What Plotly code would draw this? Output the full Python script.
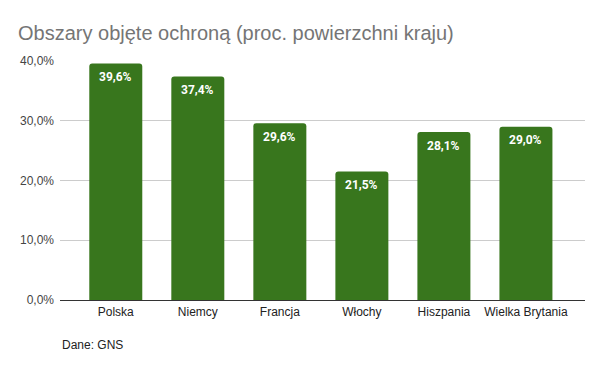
import plotly.graph_objects as go

categories = ["Polska", "Niemcy", "Francja", "Włochy", "Hiszpania", "Wielka Brytania"]
values = [39.6, 37.4, 29.6, 21.5, 28.1, 29.0]
tick_vals = [0, 10, 20, 30, 40]
tick_text = ["0,0%", "10,0%", "20,0%", "30,0%", "40,0%"]

labels = [f"{v:.1f}%".replace(".", ",") for v in values]

fig = go.Figure(go.Bar(
    x=categories, y=values,
    marker=dict(color="#38761d", line=dict(width=0)),
    width=0.646, hoverinfo="x+y",
))

label_annotations = [
    dict(x=c, y=v, text=t, xref="x", yref="y", showarrow=False,
         xanchor="center", yanchor="middle", yshift=-13.5,
         font=dict(family="Roboto", size=12, color="white", weight="bold"))
    for c, v, t in zip(categories, values, labels)
]

fig.update_layout(
    width=600, height=371,
    margin=dict(l=60, r=15, t=61, b=71, autoexpand=False),
    paper_bgcolor="white", plot_bgcolor="white",
    barcornerradius=3,
    showlegend=False,
    title=dict(text="Obszary objęte ochroną (proc. powierzchni kraju)",
               x=18/600, xanchor="left", xref="container", y=1-33/371, yanchor="middle",
               yref="container", automargin=False,
               font=dict(family="Liberation Sans", size=20, color="#757575")),
    xaxis=dict(range=[-0.68, 5.72], showgrid=False, ticks="", showline=False, automargin=False,
               ticklabelstandoff=3,
               tickfont=dict(family="Liberation Sans", size=12, color="#222222")),
    yaxis=dict(range=[0, 40], tickvals=tick_vals, ticktext=tick_text, automargin=False,
               showgrid=True, gridcolor="#cccccc", gridwidth=1,
               zeroline=True, zerolinecolor="#333333", zerolinewidth=1,
               tickfont=dict(family="Liberation Sans", size=12, color="#444444"),
               ticks="", ticklabelstandoff=5),
    annotations=label_annotations + [
        dict(text="Dane: GNS", x=0, y=-(345-300)/(300-61), xref="paper", yref="paper",
             xanchor="left", yanchor="middle", showarrow=False,
             font=dict(family="Liberation Sans", size=12, color="#222222"))],
)

fig.write_html("out.html", config={"displayModeBar": False},
               post_script="document.body.style.margin='0';")
